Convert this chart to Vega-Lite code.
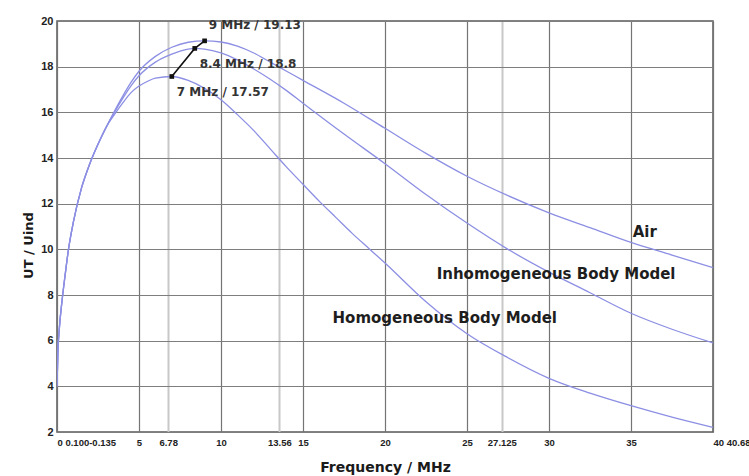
{
  "$schema": "https://vega.github.io/schema/vega-lite/v6.json",
  "width": 656,
  "height": 411,
  "autosize": "none",
  "padding": {"left": 57, "top": 21, "right": 36, "bottom": 44},
  "background": "white",
  "config": {
    "view": {"stroke": "#5a5a5a", "strokeWidth": 1.5},
    "axis": {"domain": false, "ticks": false, "labelColor": "#222", "titleColor": "#1a1a1a"}
  },
  "datasets": {
    "curves": [
      {"f": 0, "u": 4.0, "s": "Air"}, {"f": 0.05, "u": 5.4, "s": "Air"}, {"f": 0.15, "u": 6.6, "s": "Air"}, {"f": 0.3, "u": 7.7, "s": "Air"}, {"f": 0.5, "u": 8.9, "s": "Air"}, {"f": 0.7, "u": 10.0, "s": "Air"}, {"f": 1.0, "u": 11.2, "s": "Air"}, {"f": 1.5, "u": 12.7, "s": "Air"}, {"f": 2.0, "u": 13.75, "s": "Air"}, {"f": 2.5, "u": 14.6, "s": "Air"}, {"f": 3.0, "u": 15.35, "s": "Air"},
      {"f": 3.5, "u": 16.05, "s": "Air"}, {"f": 4, "u": 16.7, "s": "Air"}, {"f": 4.5, "u": 17.3, "s": "Air"}, {"f": 5, "u": 17.8, "s": "Air"}, {"f": 6, "u": 18.45, "s": "Air"}, {"f": 7, "u": 18.85, "s": "Air"}, {"f": 8, "u": 19.07, "s": "Air"}, {"f": 9, "u": 19.13, "s": "Air"}, {"f": 10, "u": 19.08, "s": "Air"}, {"f": 11, "u": 18.9, "s": "Air"}, {"f": 12, "u": 18.6, "s": "Air"}, {"f": 13, "u": 18.2, "s": "Air"}, {"f": 14, "u": 17.8, "s": "Air"}, {"f": 15, "u": 17.4, "s": "Air"}, {"f": 17.5, "u": 16.4, "s": "Air"}, {"f": 20, "u": 15.3, "s": "Air"}, {"f": 22.5, "u": 14.2, "s": "Air"}, {"f": 25, "u": 13.2, "s": "Air"}, {"f": 27.5, "u": 12.35, "s": "Air"}, {"f": 30, "u": 11.6, "s": "Air"}, {"f": 32.5, "u": 10.95, "s": "Air"}, {"f": 35, "u": 10.3, "s": "Air"}, {"f": 37.5, "u": 9.75, "s": "Air"}, {"f": 40, "u": 9.2, "s": "Air"},
      {"f": 0, "u": 4.0, "s": "Inhom"}, {"f": 0.05, "u": 5.4, "s": "Inhom"}, {"f": 0.15, "u": 6.6, "s": "Inhom"}, {"f": 0.3, "u": 7.7, "s": "Inhom"}, {"f": 0.5, "u": 8.9, "s": "Inhom"}, {"f": 0.7, "u": 10.0, "s": "Inhom"}, {"f": 1.0, "u": 11.2, "s": "Inhom"}, {"f": 1.5, "u": 12.7, "s": "Inhom"}, {"f": 2.0, "u": 13.75, "s": "Inhom"}, {"f": 2.5, "u": 14.6, "s": "Inhom"}, {"f": 3.0, "u": 15.35, "s": "Inhom"},
      {"f": 3.5, "u": 16.0, "s": "Inhom"}, {"f": 4, "u": 16.6, "s": "Inhom"}, {"f": 4.5, "u": 17.15, "s": "Inhom"}, {"f": 5, "u": 17.6, "s": "Inhom"}, {"f": 6, "u": 18.2, "s": "Inhom"}, {"f": 7, "u": 18.55, "s": "Inhom"}, {"f": 8, "u": 18.77, "s": "Inhom"}, {"f": 8.4, "u": 18.8, "s": "Inhom"}, {"f": 9, "u": 18.77, "s": "Inhom"}, {"f": 10, "u": 18.6, "s": "Inhom"}, {"f": 11, "u": 18.3, "s": "Inhom"}, {"f": 12, "u": 17.9, "s": "Inhom"}, {"f": 13, "u": 17.45, "s": "Inhom"}, {"f": 14, "u": 16.95, "s": "Inhom"}, {"f": 15, "u": 16.4, "s": "Inhom"}, {"f": 17.5, "u": 15.05, "s": "Inhom"}, {"f": 20, "u": 13.75, "s": "Inhom"}, {"f": 22.5, "u": 12.4, "s": "Inhom"}, {"f": 25, "u": 11.15, "s": "Inhom"}, {"f": 27.5, "u": 10.0, "s": "Inhom"}, {"f": 30, "u": 9.0, "s": "Inhom"}, {"f": 32.5, "u": 8.1, "s": "Inhom"}, {"f": 35, "u": 7.2, "s": "Inhom"}, {"f": 37.5, "u": 6.5, "s": "Inhom"}, {"f": 40, "u": 5.9, "s": "Inhom"},
      {"f": 0, "u": 4.0, "s": "Hom"}, {"f": 0.05, "u": 5.4, "s": "Hom"}, {"f": 0.15, "u": 6.6, "s": "Hom"}, {"f": 0.3, "u": 7.7, "s": "Hom"}, {"f": 0.5, "u": 8.9, "s": "Hom"}, {"f": 0.7, "u": 10.0, "s": "Hom"}, {"f": 1.0, "u": 11.2, "s": "Hom"}, {"f": 1.5, "u": 12.7, "s": "Hom"}, {"f": 2.0, "u": 13.75, "s": "Hom"}, {"f": 2.5, "u": 14.6, "s": "Hom"}, {"f": 3.0, "u": 15.35, "s": "Hom"},
      {"f": 3.5, "u": 15.9, "s": "Hom"}, {"f": 4, "u": 16.4, "s": "Hom"}, {"f": 4.5, "u": 16.85, "s": "Hom"}, {"f": 5, "u": 17.15, "s": "Hom"}, {"f": 5.5, "u": 17.35, "s": "Hom"}, {"f": 6, "u": 17.5, "s": "Hom"}, {"f": 7, "u": 17.57, "s": "Hom"}, {"f": 8, "u": 17.4, "s": "Hom"}, {"f": 9, "u": 17.05, "s": "Hom"}, {"f": 10, "u": 16.55, "s": "Hom"}, {"f": 11, "u": 15.9, "s": "Hom"}, {"f": 12, "u": 15.2, "s": "Hom"}, {"f": 13, "u": 14.4, "s": "Hom"}, {"f": 14, "u": 13.6, "s": "Hom"}, {"f": 15, "u": 12.85, "s": "Hom"}, {"f": 16, "u": 12.1, "s": "Hom"}, {"f": 17, "u": 11.4, "s": "Hom"}, {"f": 18, "u": 10.7, "s": "Hom"}, {"f": 19, "u": 10.05, "s": "Hom"}, {"f": 20, "u": 9.4, "s": "Hom"}, {"f": 22.5, "u": 7.7, "s": "Hom"}, {"f": 25, "u": 6.3, "s": "Hom"}, {"f": 27.5, "u": 5.25, "s": "Hom"}, {"f": 30, "u": 4.35, "s": "Hom"}, {"f": 32.5, "u": 3.7, "s": "Hom"}, {"f": 35, "u": 3.15, "s": "Hom"}, {"f": 37.5, "u": 2.65, "s": "Hom"}, {"f": 40, "u": 2.2, "s": "Hom"}
    ],
    "peaks": [
      {"f": 7, "u": 17.57, "label": "7 MHz / 17.57", "lf": 7.3, "lu": 16.88},
      {"f": 8.4, "u": 18.8, "label": "8.4 MHz / 18.8", "lf": 8.7, "lu": 18.1},
      {"f": 9, "u": 19.13, "label": "9 MHz / 19.13", "lf": 9.25, "lu": 19.81}
    ],
    "names": [
      {"lf": 35.1, "lu": 10.74, "label": "Air"},
      {"lf": 23.15, "lu": 8.9, "label": "Inhomogeneous Body Model"},
      {"lf": 16.8, "lu": 6.98, "label": "Homogeneous Body Model"}
    ]
  },
  "layer": [
    {
      "data": {"name": "curves"},
      "mark": {"type": "line", "interpolate": "monotone", "color": "#8c8fe3", "strokeWidth": 1.3, "clip": true},
      "encoding": {
        "x": {
          "field": "f", "type": "quantitative",
          "scale": {"domain": [0, 40], "nice": false, "zero": false},
          "axis": {
            "values": [0, 5, 6.78, 10, 13.56, 15, 20, 25, 27.125, 30, 35, 40],
            "labelExpr": "datum.value == 0 ? '0 0.100-0.135' : datum.value == 40 ? '40 40.68' : toString(datum.value)",
            "labelAlign": {"condition": {"test": "datum.value == 0 || datum.value == 40", "value": "left"}, "value": "center"},
            "labelFont": "Liberation Sans", "labelFontWeight": "bold", "labelFontSize": 9.5,
            "labelPadding": 5, "labelOverlap": false, "labelFlush": false,
            "gridColor": {"condition": {"test": "datum.value == 6.78 || datum.value == 13.56 || datum.value == 27.125", "value": "#c8c8c8"}, "value": "#747474"},
            "gridWidth": {"condition": {"test": "datum.value == 6.78 || datum.value == 13.56 || datum.value == 27.125", "value": 2}, "value": 1.2},
            "title": "Frequency / MHz",
            "titleFont": "DejaVu Sans", "titleFontWeight": "bold", "titleFontSize": 14,
            "titleY": 39, "titleBaseline": "alphabetic"
          }
        },
        "y": {
          "field": "u", "type": "quantitative",
          "scale": {"domain": [2, 20], "nice": false, "zero": false},
          "axis": {
            "values": [2, 4, 6, 8, 10, 12, 14, 16, 18, 20],
            "labelFont": "Liberation Sans", "labelFontWeight": "bold", "labelFontSize": 11,
            "labelPadding": 4,
            "gridColor": "#7e7e7e", "gridWidth": 1.2,
            "title": "UT / Uind",
            "titleFont": "DejaVu Sans", "titleFontWeight": "bold", "titleFontSize": 13,
            "titleX": -22, "titleY": 224, "titleAngle": -90, "titleBaseline": "bottom", "titleAlign": "center"
          }
        },
        "detail": {"field": "s"}
      }
    },
    {
      "data": {"name": "peaks"},
      "mark": {"type": "line", "color": "#111", "strokeWidth": 1.6, "point": {"shape": "square", "size": 22, "filled": true, "color": "#111"}},
      "encoding": {
        "x": {"field": "f", "type": "quantitative"},
        "y": {"field": "u", "type": "quantitative"}
      }
    },
    {
      "data": {"name": "peaks"},
      "mark": {"type": "text", "align": "left", "baseline": "middle", "font": "DejaVu Sans", "fontWeight": "bold", "fontSize": 12, "color": "#333"},
      "encoding": {
        "x": {"field": "lf", "type": "quantitative"},
        "y": {"field": "lu", "type": "quantitative"},
        "text": {"field": "label"}
      }
    },
    {
      "data": {"name": "names"},
      "mark": {"type": "text", "align": "left", "baseline": "middle", "font": "DejaVu Sans", "fontWeight": "bold", "fontSize": 15, "color": "#1e1e1e"},
      "encoding": {
        "x": {"field": "lf", "type": "quantitative"},
        "y": {"field": "lu", "type": "quantitative"},
        "text": {"field": "label"}
      }
    }
  ]
}
